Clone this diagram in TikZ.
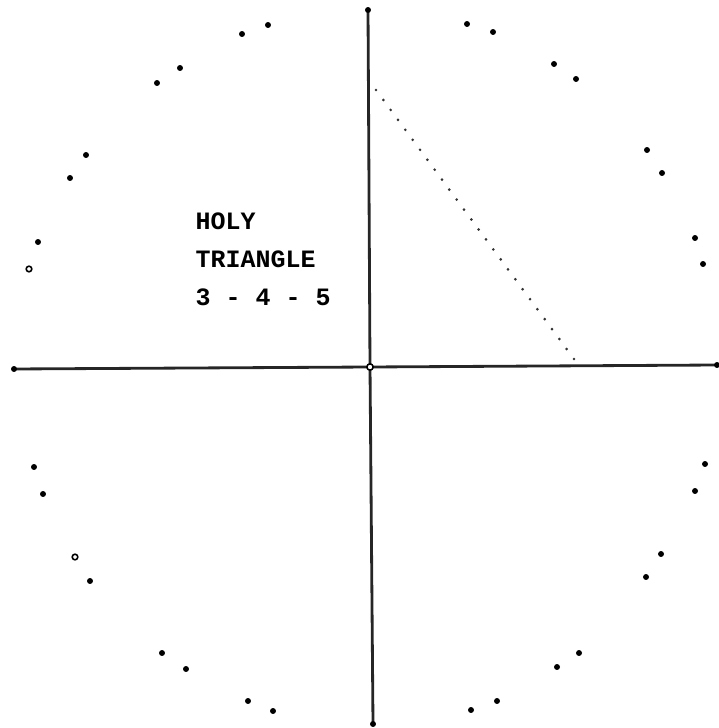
\documentclass[tikz,border=0pt]{standalone}
\usepackage{fontspec}
\setmonofont{Liberation Mono}
\usetikzlibrary{positioning,calc}
\tikzset{
  every picture/.style={
    line join=round,
    line cap=round,
  },
  axisline/.style={black!85, line width=0.8pt},
  plotdot/.style={fill=black},
  ringdot/.style={draw=black, fill=white, line width=0.45pt},
  hypdot/.style={fill=black!80},
  caption/.style={font=\ttfamily\bfseries\fontsize{7.1pt}{10pt}\selectfont, inner sep=0pt, anchor=base west},
}

\begin{document}
\begin{tikzpicture}[x=0.01cm, y=-0.01cm]
\useasboundingbox (0,0) rectangle (719,728);

% axis ends and origin
\coordinate (top) at (368,10);
\coordinate (bottom) at (373,724);
\coordinate (left) at (14,369);
\coordinate (right) at (717,365);
\coordinate (origin) at (370,367);

\draw[axisline] (top) -- (origin) -- (bottom);
\draw[axisline] (left) -- (origin) -- (right);
\foreach \p in {top,bottom,left,right}
  \fill[plotdot] (\p) circle (0.85pt);
\draw[ringdot] (origin) circle (0.9pt);

% the 3-4-5 hypotenuse, dotted
\coordinate (legtop) at (376,90);
\coordinate (legfoot) at (574,359);
\foreach \t in {0,...,27}
  \fill[hypdot] ($(legtop)!\t/27!(legfoot)$) circle (0.42pt);

% points round the circle
\foreach \x/\y in {467/24, 493/32, 554/64, 576/79, 647/150, 662/173, 695/238, 703/264,
                   242/34, 268/25, 157/83, 180/68, 86/155, 70/178, 38/242,
                   34/467, 43/494, 90/581, 162/653, 186/669, 248/701, 273/711,
                   705/464, 695/491, 661/554, 646/577, 579/653, 557/667, 497/701, 471/710}
  \fill[plotdot] (\x,\y) circle (0.85pt);
\draw[ringdot] (29,269) circle (0.8pt);
\draw[ringdot] (75,557) circle (0.8pt);

% label
\node[caption] (holy) at (195,230) {HOLY};
\node[caption] (triangle) at (195,268) {TRIANGLE};
\node[caption] (sides) at (195,306) {3 - 4 - 5};
\end{tikzpicture}
\end{document}
